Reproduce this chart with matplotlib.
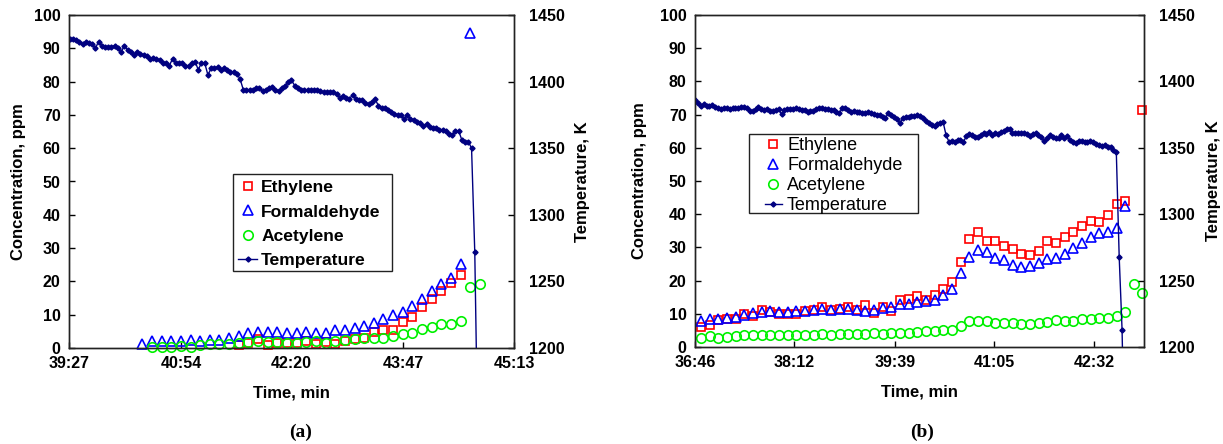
import numpy as np
import matplotlib
matplotlib.use("Agg")
import matplotlib.pyplot as plt
from matplotlib.patches import Rectangle

nan = np.nan


def mmss(s):
    """'mm:ss' -> seconds."""
    m, sec = s.split(":")
    return int(m) * 60 + float(sec)


# ---------------- panel (a) ----------------
time_ticks_a = ["39:27", "40:54", "42:20", "43:47", "45:13"]
temp_start_a = "39:27.5"
conc_start_a = "40:24"

ethylene_a = [nan, nan, nan, nan, nan, nan, nan, nan, nan, nan,
              1.0, 1.6, 2.8, 1.0, 1.5, 1.4, 1.4, 2.0, 1.1, 1.8,
              1.1, 2.2, 2.8, 3.0, 4.8, 5.4, 5.5, 7.8, 9.4, 12.2,
              14.7, 17.0, 19.4, 22.0, nan, nan]
formaldehyde_a = [1.1, 2.0, 2.0, 2.0, 2.0, 2.3, 2.0, 2.5, 2.5, 2.9,
                  3.6, 4.5, 4.9, 4.7, 4.7, 4.5, 4.5, 4.7, 4.6, 4.6,
                  5.3, 5.5, 6.1, 6.6, 7.4, 8.8, 10.0, 10.9, 12.7, 14.8,
                  17.0, 19.1, 21.1, 25.1, 94.6, nan]
acetylene_a = [nan, 0.3, 0.3, 0.3, 0.6, 0.3, 0.9, 1.1, 1.1, 1.1,
               1.4, 1.9, 2.2, 1.7, 1.9, 1.6, 1.6, 1.8, 2.1, 1.5,
               2.1, 2.4, 2.6, 2.9, 2.9, 3.1, 3.6, 4.1, 4.6, 5.6,
               6.4, 7.1, 7.1, 8.1, 18.4, 19.2]
temperature_a = [
    1431.7, 1432, 1431, 1430, 1428, 1430, 1429, 1428, 1425, 1430,
    1427, 1426, 1426, 1426, 1427, 1425, 1422, 1427, 1424, 1422,
    1420, 1422, 1421, 1420, 1419, 1417, 1418, 1417, 1416, 1414,
    1414, 1412, 1417, 1414, 1414, 1414, 1412, 1412, 1414, 1415,
    1409, 1414, 1414, 1405, 1410, 1410, 1411, 1409, 1410, 1409,
    1407, 1407, 1406, 1402, 1394, 1394, 1394, 1394, 1395, 1395,
    1393, 1394, 1395, 1396, 1394, 1393, 1395, 1397, 1400, 1401,
    1397, 1395, 1394, 1394, 1394, 1394, 1394, 1394, 1393, 1392,
    1392, 1392, 1392, 1391, 1388, 1389, 1388, 1387, 1390, 1387,
    1386, 1386, 1384, 1383, 1385, 1387, 1382, 1380, 1380, 1379,
    1377, 1376, 1375, 1375, 1372, 1375, 1372, 1371, 1370, 1369,
    1367, 1368, 1366, 1365, 1365, 1364, 1364, 1363, 1361, 1360,
    1363, 1363, 1356, 1355, 1355, 1350, 1272, 1120]

# ---------------- panel (b) ----------------
time_ticks_b = ["36:46", "38:12", "39:39", "41:05", "42:32"]
time_end_b = "43:15"
temp_start_b = "36:46"
conc_start_b = "36:51.2"

ethylene_b = [6.0, 6.5, 8.0, 8.5, 8.5, 10.0, 9.2, 11.1, 10.6, 9.8,
              9.8, 10.0, 10.9, 11.1, 11.9, 11.1, 11.3, 12.1, 11.1, 12.6,
              10.3, 11.9, 10.9, 14.3, 14.6, 15.3, 14.3, 15.6, 17.6, 19.6,
              25.6, 32.4, 34.5, 32.0, 32.0, 30.4, 29.6, 28.1, 27.8, 28.9,
              31.9, 31.2, 33.0, 34.7, 36.5, 38.0, 37.7, 39.7, 43.2, 44.0,
              nan, 71.4]
formaldehyde_b = [7.8, 8.3, 8.5, 8.8, 9.0, 9.7, 10.1, 10.6, 10.8, 10.6,
                  10.4, 10.9, 10.8, 11.1, 11.3, 11.1, 11.3, 11.4, 11.1, 10.9,
                  11.1, 11.6, 12.1, 13.1, 13.1, 13.6, 13.9, 14.3, 15.6, 17.6,
                  22.3, 27.1, 29.3, 28.6, 26.9, 26.1, 24.8, 24.1, 24.4, 25.3,
                  26.6, 26.9, 28.1, 29.9, 31.4, 33.0, 34.2, 34.5, 35.8, 42.4,
                  nan, nan]
acetylene_b = [2.8, 3.2, 2.8, 3.0, 3.4, 3.6, 3.6, 3.6, 3.5, 3.5,
               3.6, 3.7, 3.7, 3.7, 3.8, 3.7, 3.8, 3.8, 4.0, 3.8,
               4.1, 4.0, 4.3, 4.1, 4.1, 4.5, 4.7, 4.7, 5.0, 5.0,
               6.2, 7.7, 7.8, 7.7, 7.2, 7.2, 7.2, 7.0, 7.0, 7.2,
               7.5, 8.0, 7.8, 7.8, 8.4, 8.5, 8.7, 8.7, 9.2, 10.4,
               18.9, 16.4]
temperature_b = [
    1386.0, 1383.5, 1381.7, 1382.7, 1381.7, 1381.7, 1382.2, 1381.0, 1380.2, 1379.2,
    1380.2, 1379.7, 1379.2, 1379.7, 1380.2, 1379.7, 1381.0, 1380.5, 1379.7, 1377.7,
    1377.7, 1379.0, 1380.7, 1379.2, 1378.5, 1379.2, 1377.7, 1377.7, 1378.7, 1379.2,
    1375.2, 1378.2, 1379.2, 1379.2, 1379.5, 1379.7, 1379.2, 1378.5, 1378.5, 1377.2,
    1377.5, 1378.0, 1379.2, 1380.2, 1380.2, 1379.2, 1379.0, 1378.5, 1378.2, 1377.2,
    1376.0, 1379.7, 1380.2, 1378.5, 1377.2, 1377.7, 1377.2, 1377.0, 1376.5, 1376.0,
    1376.7, 1376.0, 1375.2, 1374.7, 1374.7, 1373.5, 1372.2, 1376.5, 1374.7, 1373.5,
    1371.7, 1368.4, 1372.2, 1373.2, 1373.5, 1374.0, 1373.6, 1374.7, 1374.0, 1372.2,
    1370.4, 1368.9, 1367.2, 1366.4, 1367.9, 1368.4, 1369.2, 1359.6, 1354.6, 1355.4,
    1354.6, 1355.9, 1355.9, 1354.1, 1358.9, 1360.4, 1359.4, 1358.4, 1358.4, 1359.9,
    1360.9, 1360.4, 1361.9, 1359.9, 1360.9, 1360.4, 1361.7, 1362.9, 1364.2, 1364.4,
    1360.9, 1361.4, 1360.9, 1360.9, 1360.9, 1360.1, 1359.1, 1360.4, 1360.9, 1359.6,
    1358.4, 1354.9, 1357.6, 1359.4, 1358.4, 1357.6, 1357.4, 1359.9, 1357.4, 1358.9,
    1355.9, 1354.6, 1353.9, 1355.4, 1354.9, 1354.1, 1354.1, 1355.4, 1354.4, 1352.9,
    1352.1, 1351.4, 1352.1, 1350.4, 1350.4, 1348.4, 1347.1, 1268, 1213, 1100]

TEMP_STEP_S = 2.5    # thermocouple logging interval
CONC_STEP_S = 7.5    # analyser sampling interval

series_labels = ["Ethylene", "Formaldehyde", "Acetylene", "Temperature"]

plt.rcParams["font.family"] = ["Liberation Sans", "DejaVu Sans"]
plt.rcParams["font.weight"] = "bold"

W, H = 1223, 444
fig = plt.figure(figsize=(W / 100, H / 100), dpi=100)


def panel(rect_px, ticks, xend, t_temp0, temp, t_conc0, eth, form, acet,
          ylab_x, legend_box_px, legend_anchor_px, legend_kw):
    x0, y0, x1, y1 = rect_px
    w, h = x1 - x0, y1 - y0
    ax = fig.add_axes([x0 / W, 1 - y1 / H, w / W, h / H])
    ax2 = ax.twinx()

    def to_axes(px, py):
        return (px - x0) / w, (y1 - py) / h

    tick_pos = [mmss(t) for t in ticks]
    t_temp = mmss(t_temp0) + TEMP_STEP_S * np.arange(len(temp))
    t_conc = mmss(t_conc0) + CONC_STEP_S * np.arange(len(eth))

    kw = dict(ls="none", mfc="none", mew=1.2, clip_on=False)
    h1, = ax.plot(t_conc, eth, marker="s", ms=6.2, mec="#ff0000", **kw)
    h2, = ax.plot(t_conc, form, marker="^", ms=6.8, mec="#0000ff", **kw)
    h3, = ax.plot(t_conc, acet, marker="o", ms=6.8, mec="#00f000", **kw)
    h4, = ax2.plot(t_temp, temp, color="#000080", lw=1.0, marker="D",
                   ms=2.6, mec="#000080", mfc="#000080")

    ax.set_xlim(tick_pos[0], mmss(xend))
    ax.set_xticks(tick_pos)
    ax.set_xticklabels(ticks)
    ax.set_ylim(0, 100)
    ax.set_yticks(np.arange(0, 101, 10))
    ax2.set_ylim(1200, 1450)
    ax2.set_yticks(np.arange(1200, 1451, 50))

    ax.tick_params(axis="x", direction="in", length=4, width=1, labelsize=11.5, pad=6)
    ax.tick_params(axis="y", direction="in", length=4, width=1, labelsize=11.5, pad=6)
    ax2.tick_params(axis="y", direction="in", length=4, width=1, labelsize=11.5, pad=11)
    for a in (ax, ax2):
        for s in a.spines.values():
            s.set_color("#222222")
            s.set_linewidth(1.0)

    ax.set_ylabel("Concentration, ppm", fontsize=12, fontweight="bold")
    ax.yaxis.set_label_coords(ylab_x[0], 0.5)
    ax2.set_ylabel("Temperature, K", fontsize=12, fontweight="bold")
    ax2.yaxis.set_label_coords(ylab_x[1], 0.5)
    ax.set_xlabel("Time, min", fontsize=12, fontweight="bold")
    ax.xaxis.set_label_coords(0.5, -0.114)

    # legend frame
    bx0, by0, bx1, by1 = legend_box_px
    fx, fy = to_axes(bx0, by1)
    frame = Rectangle((fx, fy), (bx1 - bx0) / w, (by1 - by0) / h,
                      transform=ax.transAxes, facecolor="white",
                      edgecolor="#222222", lw=1.0, zorder=5)
    ax2.add_patch(frame)
    leg = ax2.legend([h1, h2, h3, h4], series_labels, loc="center left",
                     bbox_to_anchor=to_axes(*legend_anchor_px),
                     bbox_transform=ax.transAxes, frameon=False,
                     borderpad=0, borderaxespad=0, **legend_kw)
    leg.set_zorder(6)
    return ax


panel((69, 15, 514, 348), time_ticks_a, time_ticks_a[-1],
      temp_start_a, temperature_a, conc_start_a,
      ethylene_a, formaldehyde_a, acetylene_a,
      ylab_x=(-0.097, 1.137),
      legend_box_px=(233, 174, 392, 271),
      legend_anchor_px=(238, 224),
      legend_kw=dict(prop={"weight": "bold", "size": 12.6},
                     labelspacing=0.51, handlelength=1.09, handletextpad=0.23))

panel((695, 15, 1144, 347), time_ticks_b, time_end_b,
      temp_start_b, temperature_b, conc_start_b,
      ethylene_b, formaldehyde_b, acetylene_b,
      ylab_x=(-0.107, 1.138),
      legend_box_px=(749, 134, 918, 213),
      legend_anchor_px=(765, 175.5),
      legend_kw=dict(prop={"weight": "normal", "size": 13},
                     labelspacing=0.17, handlelength=0.94, handletextpad=0.28))

fig.text(301 / W, 1 - 432 / H, "(a)", ha="center", va="center", fontsize=14,
         fontweight="bold", family=["Liberation Serif", "DejaVu Serif"])
fig.text(922 / W, 1 - 432 / H, "(b)", ha="center", va="center", fontsize=14,
         fontweight="bold", family=["Liberation Serif", "DejaVu Serif"])

fig.savefig("out.png", dpi=100)
